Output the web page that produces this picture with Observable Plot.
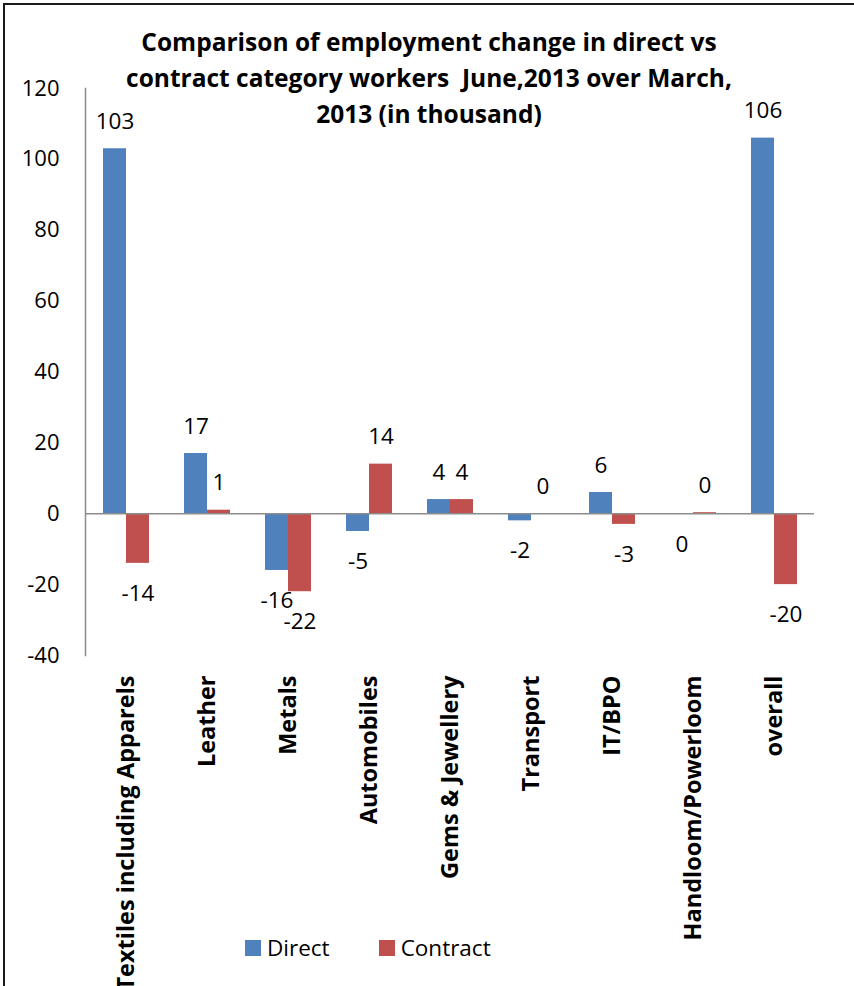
<!DOCTYPE html>
<html>
<head>
<meta charset="utf-8">
<script src="https://cdn.jsdelivr.net/npm/d3@7"></script>
<script src="https://cdn.jsdelivr.net/npm/@observablehq/plot@0.6"></script>
<style>
  body { margin: 0; background: #fff; font-family: "Open Sans", sans-serif; }
  #chart { position: relative; width: 854px; height: 986px; overflow: hidden; background: #fff; }
  #border { position: absolute; left: 3px; top: 3px; width: 900px; height: 1100px; border: 2px solid #1a1a1a; box-sizing: border-box; pointer-events: none; }
  #plot { position: absolute; left: 0; top: 0; }
  #title { position: absolute; left: 0; width: 858px; top: 24px; text-align: center; font-weight: bold; font-size: 24.5px; line-height: 36px; color: #000; }
  #legend { position: absolute; left: 245px; top: 933px; height: 30px; display: flex; align-items: center; font-size: 22.5px; line-height: 30px; color: #000; }
  #legend .item { display: flex; align-items: center; margin-right: 49px; }
  #legend .sw { width: 16px; height: 16px; margin-right: 6px; }
</style>
</head>
<body>
<div id="chart">
  <div id="plot"></div>
  <div id="title">Comparison of employment change in direct vs<br>contract category workers&nbsp; June,2013 over March,<br>2013 (in thousand)</div>
  <div id="legend"></div>
  <div id="border"></div>
</div>
<script>
// Employment change, June 2013 over March 2013 (thousands)
const categories = ["Textiles including Apparels", "Leather", "Metals", "Automobiles", "Gems & Jewellery", "Transport", "IT/BPO", "Handloom/Powerloom", "overall"];
const direct = [103, 17, -16, -5, 4, -2, 6, -0.2, 106];
const contract = [-14, 1, -22, 14, 4, 0, -3, 0.3, -20];
const series = ["Direct", "Contract"];
const colors = ["#4F81BD", "#C0504D"];
const yTicks = [-40, -20, 0, 20, 40, 60, 80, 100, 120];

const rows = categories.flatMap((c, i) => [
  {category: c, series: "Direct", value: direct[i]},
  {category: c, series: "Contract", value: contract[i]}
]);

// Rounded value labels; a small negative rounds to -0, printed as "0"
const label = d => String(Math.round(d.value));

const chart = Plot.plot({
  width: 854,
  height: 986,
  marginTop: 88,
  marginBottom: 331,
  marginLeft: 84,
  marginRight: 39,
  style: {fontFamily: "'Open Sans', sans-serif", fontSize: "22px", color: "#000", background: "transparent"},
  fx: {domain: categories, padding: 0, label: null},
  x: {domain: series, axis: null, paddingInner: 0, paddingOuter: 0.742},
  y: {domain: [-40, 120], label: null},
  color: {domain: series, range: colors},
  marks: [
    Plot.axisY({ticks: yTicks, tickFormat: d => String(d), tickSize: 0, tickPadding: 26, fontSize: 22, label: null}),
    Plot.axisFx({anchor: "bottom", tickSize: 0, tickPadding: 20, tickRotate: -90, fontSize: 23.5, fontWeight: "bold", label: null}),
    Plot.frame({anchor: "left", facetAnchor: "left", stroke: "#8c8c8c", strokeWidth: 1.5}),
    Plot.barY(rows, {fx: "category", x: "series", y: "value", fill: "series"}),
    Plot.ruleY([0], {stroke: "#8c8c8c", strokeWidth: 1.5}),
    Plot.text(rows.filter(d => d.value >= 0), {fx: "category", x: "series", y: "value", text: label, dy: -27, fontSize: 22.5, fill: "#000"}),
    Plot.text(rows.filter(d => d.value < 0), {fx: "category", x: "series", y: "value", text: label, dy: 30, fontSize: 22.5, fill: "#000"})
  ]
});
document.getElementById("plot").appendChild(chart);

// Legend below the category labels
const legend = document.getElementById("legend");
series.forEach((s, i) => {
  const item = document.createElement("div");
  item.className = "item";
  const sw = document.createElement("span");
  sw.className = "sw";
  sw.style.background = colors[i];
  const t = document.createElement("span");
  t.textContent = s;
  item.append(sw, t);
  legend.appendChild(item);
});
</script>
</body>
</html>
